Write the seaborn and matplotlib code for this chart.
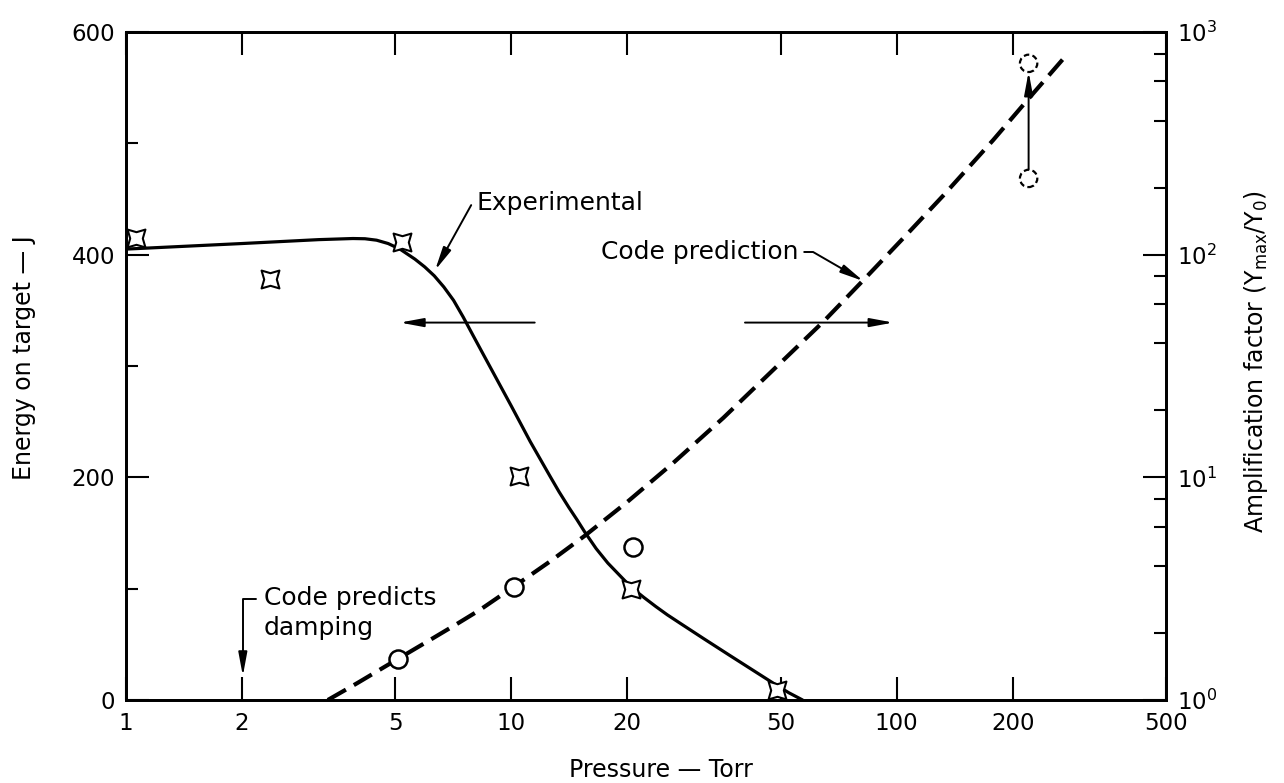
import matplotlib
matplotlib.use("Agg")
import matplotlib.pyplot as plt
import matplotlib.ticker as mticker
import seaborn as sns

# ---------------- data ----------------
# Experimental curve: energy on target (J) vs pressure (Torr)
exp_curve_p = [1.0, 2.0, 3.16, 3.88, 4.17, 4.47, 4.79, 5.14, 5.62, 5.96, 6.31,
               6.68, 7.08, 7.50, 7.94, 8.41, 8.91, 10.0, 11.2, 12.6, 13.3, 14.1,
               14.8, 15.5, 16.6, 17.8, 19.1, 20.5, 22.1, 23.7, 25.4, 27.4, 31.6,
               36.9, 42.7, 48.9, 52.5, 57.0]
exp_curve_E = [405, 410, 413.5, 414.5, 414.3, 413, 410, 405, 396, 389, 381,
               371, 359, 344, 328, 312, 296, 264, 232, 201, 187, 173,
               162, 151, 136, 123, 112, 101, 92, 84, 76.5, 69, 55,
               40, 26, 13, 6.5, 0]

# Experimental data points (crosses)
cross_p = [1.06, 2.37, 5.19, 10.49, 20.4, 48.9]
cross_E = [415, 378, 411, 201, 100, 9]

# Code prediction curve: amplification factor vs pressure
code_p = [3.34, 3.98, 5.08, 6.31, 7.3, 8.29, 10.18, 12.6, 15.5, 19.95, 26.3,
          35.5, 49.8, 64.6, 82.0, 104.7, 132, 178, 222, 271]
code_A = [1.0, 1.19, 1.53, 1.91, 2.22, 2.54, 3.24, 4.19, 5.46, 7.73, 11.6,
          18.5, 32.5, 50.1, 76.9, 120, 184, 327, 511, 760]

# Code prediction points (circles)
circ_p = [5.08, 10.18, 20.7]
circ_A = [1.53, 3.21, 4.88]

# Dashed circles (range at high pressure)
dcirc_p = [220, 220]
dcirc_A = [723, 220]

# Axis ticks
x_ticks = [1, 2, 5, 10, 20, 50, 100, 200, 500]
x_ticklabels = ["1", "2", "5", "10", "20", "50", "100", "200", "500"]
yl_major = [0, 200, 400, 600]
yl_minor = [100, 300, 500]

# ---------------- style ----------------
sns.set_style("ticks", rc={"axes.edgecolor": "black", "text.color": "black",
                           "axes.labelcolor": "black", "xtick.color": "black",
                           "ytick.color": "black"})
plt.rcParams["font.family"] = ["DejaVu Sans"]

fig = plt.figure(figsize=(12.84, 7.83), dpi=100)
ax = fig.add_axes([126 / 1284, 83 / 783, 1040 / 1284, 668 / 783])
ax.set_xscale("log")
ax2 = ax.twinx()
ax2.set_yscale("log")

# ---------------- plot ----------------
sns.lineplot(x=exp_curve_p, y=exp_curve_E, ax=ax, color="black", linewidth=2.3,
             sort=False, errorbar=None)
ax.lines[-1].set_solid_joinstyle("round")
sns.scatterplot(x=cross_p, y=cross_E, ax=ax, marker=(4, 1, 45), s=330,
                color="white", edgecolor="black", linewidth=1.5, zorder=4)

sns.lineplot(x=code_p, y=code_A, ax=ax2, color="black", linewidth=3.0,
             sort=False, errorbar=None)
ax2.lines[-1].set_dashes([5, 2.2])
sns.scatterplot(x=circ_p, y=circ_A, ax=ax2, marker="o", s=13 ** 2,
                color="white", edgecolor="black", linewidth=1.8, zorder=4)
sns.scatterplot(x=dcirc_p, y=dcirc_A, ax=ax2, marker="o", s=12.5 ** 2,
                color="white", edgecolor="black", linewidth=1.6,
                linestyle=(0, (2.5, 1.5)), zorder=4)

# ---------------- axes ----------------
ax.set_xlim(1, 500)
ax.set_ylim(0, 600)
ax2.set_ylim(1, 1000)

ax.xaxis.set_major_locator(mticker.FixedLocator(x_ticks))
ax.xaxis.set_major_formatter(mticker.FixedFormatter(x_ticklabels))
ax.xaxis.set_minor_locator(mticker.NullLocator())
ax.tick_params(axis="x", which="major", direction="in", length=16.5, width=1.5,
               top=True, bottom=True, labelsize=16.5, pad=9)

ax.yaxis.set_major_locator(mticker.FixedLocator(yl_major))
ax.yaxis.set_minor_locator(mticker.FixedLocator(yl_minor))
ax.tick_params(axis="y", which="major", direction="in", length=16.5, width=1.5,
               left=True, right=False, labelsize=16.5, pad=8)
ax.tick_params(axis="y", which="minor", direction="in", length=8.6, width=1.5,
               left=True, right=False)

ax2.yaxis.set_major_locator(mticker.LogLocator(base=10, numticks=10))
ax2.yaxis.set_minor_locator(mticker.LogLocator(base=10, subs=[2, 4, 6, 8], numticks=10))
ax2.yaxis.set_minor_formatter(mticker.NullFormatter())
ax2.tick_params(axis="y", which="major", direction="in", length=16.5, width=1.5,
                labelsize=16.5, pad=8)
ax2.tick_params(axis="y", which="minor", direction="in", length=8.6, width=1.5)

for a in (ax, ax2):
    for sp in a.spines.values():
        sp.set_linewidth(2)
        sp.set_color("black")
        sp.set_visible(True)

ax.set_xlabel("Pressure — Torr", fontsize=17)
ax.xaxis.set_label_coords(0.514, -0.1048)
ax.xaxis.label.set_verticalalignment("center")
ax.set_ylabel("Energy on target — J", fontsize=17)
ax.yaxis.set_label_coords(-0.098, 0.513)
ax.yaxis.label.set_verticalalignment("center")
ax2.set_ylabel(r"Amplification factor (Y$_\mathregular{max}$/Y$_\mathregular{0}$)", fontsize=17)
ax2.yaxis.set_label_coords(1.087, 0.506)
ax2.yaxis.label.set_verticalalignment("center")

# ---------------- annotations ----------------
head = "-|>,head_length=0.7,head_width=0.13"
ax.annotate("Experimental", xy=(6.34, 386), xytext=(8.13, 446), fontsize=18,
            ha="left", va="center",
            arrowprops=dict(arrowstyle=head, mutation_scale=20, lw=1.4, color="black",
                            connectionstyle="angle,angleA=0,angleB=61,rad=0",
                            relpos=(0, 0.5), shrinkA=2, shrinkB=0))
ax2.annotate("Code prediction", xy=(82, 76.1), xytext=(55.5, 102.8), fontsize=18,
             ha="right", va="center",
             arrowprops=dict(arrowstyle=head, mutation_scale=20, lw=1.4, color="black",
                             connectionstyle="angle,angleA=0,angleB=-30,rad=0",
                             relpos=(1, 0.5), shrinkA=2, shrinkB=0))
ax.annotate("Code predicts\ndamping", xy=(2.01, 21.6), xytext=(2.28, 78), fontsize=18,
            ha="left", va="center", linespacing=1.3,
            arrowprops=dict(arrowstyle=head, mutation_scale=20, lw=1.4, color="black",
                            connectionstyle="angle,angleA=0,angleB=90,rad=0",
                            relpos=(0, 0.77), shrinkA=3, shrinkB=0))
ax.annotate("", xy=(5.14, 339), xytext=(11.5, 339),
            arrowprops=dict(arrowstyle=head, mutation_scale=20, lw=1.4, color="black",
                            shrinkA=0, shrinkB=0))
ax.annotate("", xy=(98, 339), xytext=(40.4, 339),
            arrowprops=dict(arrowstyle=head, mutation_scale=20, lw=1.4, color="black",
                            shrinkA=0, shrinkB=0))
ax2.annotate("", xy=(220, 663), xytext=(220, 240),
             arrowprops=dict(arrowstyle=head, mutation_scale=20, lw=1.4, color="black",
                             shrinkA=0, shrinkB=0))

fig.savefig("out.png", dpi=100)
